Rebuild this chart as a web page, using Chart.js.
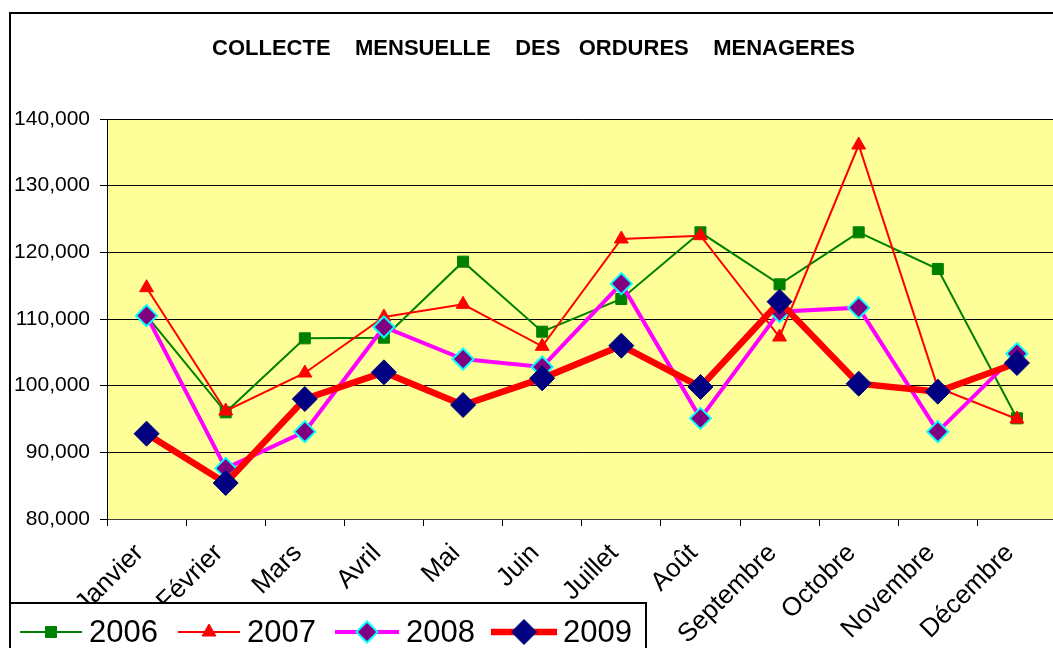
<!DOCTYPE html>
<html>
<head>
<meta charset="utf-8">
<script src="https://cdn.jsdelivr.net/npm/chart.js@4.4.0/dist/chart.umd.min.js"></script>
<style>
  html, body { margin: 0; padding: 0; background: #fff; overflow: hidden; }
  #myChart { display: block; }
</style>
</head>
<body>
<canvas id="myChart" width="1070" height="648"></canvas>
<script>
// months on the x axis
var months = ["Janvier", "Février", "Mars", "Avril", "Mai", "Juin", "Juillet", "Août", "Septembre", "Octobre", "Novembre", "Décembre"];

// tonnes per month
var y2006 = [110500, 96000, 107100, 107200, 118600, 108100, 113000, 123000, 115200, 123000, 117500, 95100];
var y2007 = [114700, 96200, 101900, 110300, 112200, 105900, 122000, 122500, 107300, 136100, 99700, 95000];
var y2008 = [110500, 87600, 93100, 108800, 104000, 102800, 115300, 95100, 111100, 111700, 93100, 104800];
var y2009 = [92800, 85400, 98000, 102000, 97100, 101100, 106000, 99800, 112600, 100300, 99100, 103400];

var yTicks = [80000, 90000, 100000, 110000, 120000, 130000, 140000];

var FONT = "'Liberation Sans', Arial, sans-serif";

var ctx = document.getElementById("myChart");

// yellow plot background + white canvas
var bgPlugin = {
  id: "bg",
  beforeDraw: function (chart) {
    var c = chart.ctx, a = chart.chartArea;
    c.save();
    c.fillStyle = "#ffffff";
    c.fillRect(0, 0, chart.width, chart.height);
    c.fillStyle = "#FFFF99";
    c.fillRect(a.left, a.top, a.right - a.left, a.bottom - a.top);
    c.restore();
  }
};

// legend box at the bottom left, and the chart border
var legendItems = [
  { label: "2006", color: "#008000", lw: 2, x1: 20, x2: 82, tx: 89, style: "rect", r: 7.8, fill: "#008000", border: "#008000", bw: 1 },
  { label: "2007", color: "#FF0000", lw: 2, x1: 178, x2: 240, tx: 247, style: "triangle", r: 8, fill: "#FF0000", border: "#FF0000", bw: 1 },
  { label: "2008", color: "#FF00FF", lw: 4, x1: 335, x2: 399, tx: 406, style: "rectRot", r: 10.5, fill: "#800080", border: "#00FFFF", bw: 2 },
  { label: "2009", color: "#FF0000", lw: 6.5, x1: 491, x2: 557, tx: 563, style: "rectRot", r: 12.5, fill: "#000080", border: "#000080", bw: 1 }
];

var framePlugin = {
  id: "frame",
  afterDraw: function (chart) {
    var c = chart.ctx;
    c.save();
    // outer border
    c.strokeStyle = "#000";
    c.lineWidth = 2;
    c.strokeRect(10, 13, 2000, 2000);
    // legend box
    c.fillStyle = "#fff";
    c.fillRect(10, 603, 636, 100);
    c.strokeRect(10, 603, 636, 100);
    var ly = 632;
    legendItems.forEach(function (it) {
      c.strokeStyle = it.color;
      c.lineWidth = it.lw;
      c.beginPath();
      c.moveTo(it.x1, ly);
      c.lineTo(it.x2, ly);
      c.stroke();
      c.fillStyle = it.fill;
      c.strokeStyle = it.border;
      c.lineWidth = it.bw;
      Chart.helpers.drawPoint(c, { pointStyle: it.style, radius: it.r, rotation: 0, borderWidth: it.bw }, (it.x1 + it.x2) / 2, ly);
      c.fillStyle = "#000";
      c.font = "31px " + FONT;
      c.textBaseline = "middle";
      c.textAlign = "left";
      c.fillText(it.label, it.tx, ly + 1);
    });
    c.restore();
  }
};

var myChart = new Chart(ctx, {
  type: "line",
  data: {
    labels: months,
    datasets: [
      {
        label: "2006", data: y2006, order: 4,
        borderColor: "#008000", borderWidth: 2,
        pointStyle: "rect", pointRadius: 7.8, pointHoverRadius: 7.8,
        pointBackgroundColor: "#008000", pointBorderColor: "#008000", pointBorderWidth: 1
      },
      {
        label: "2007", data: y2007, order: 3,
        borderColor: "#FF0000", borderWidth: 2,
        pointStyle: "triangle", pointRadius: 8, pointHoverRadius: 8,
        pointBackgroundColor: "#FF0000", pointBorderColor: "#FF0000", pointBorderWidth: 1
      },
      {
        label: "2008", data: y2008, order: 2,
        borderColor: "#FF00FF", borderWidth: 4,
        pointStyle: "rectRot", pointRadius: 10.5, pointHoverRadius: 10.5,
        pointBackgroundColor: "#800080", pointBorderColor: "#00FFFF", pointBorderWidth: 2
      },
      {
        label: "2009", data: y2009, order: 1,
        borderColor: "#FF0000", borderWidth: 6.5,
        pointStyle: "rectRot", pointRadius: 12.5, pointHoverRadius: 12.5,
        pointBackgroundColor: "#000080", pointBorderColor: "#000080", pointBorderWidth: 1
      }
    ]
  },
  options: {
    responsive: false,
    animation: false,
    devicePixelRatio: 1,
    layout: { padding: { left: 0, right: 3, top: 0, bottom: 0 } },
    elements: { line: { tension: 0, fill: false } },
    plugins: {
      legend: { display: false },
      tooltip: { enabled: false },
      title: {
        display: true,
        text: "COLLECTE    MENSUELLE    DES   ORDURES    MENAGERES",
        color: "#000",
        font: { family: FONT, size: 22, weight: "bold", lineHeight: 1.2 },
        padding: { top: 36, bottom: 56.6 }
      }
    },
    scales: {
      x: {
        offset: true,
        grid: { offset: true, drawOnChartArea: false, drawTicks: true, tickLength: 7, color: "#000" },
        border: { display: true, color: "#404040", width: 1 },
        ticks: {
          color: "#000",
          font: { family: FONT, size: 26 },
          minRotation: 45, maxRotation: 45,
          autoSkip: false, padding: 12, labelOffset: -7
        },
        afterFit: function (scale) { scale.height = 129; }
      },
      y: {
        min: 80000, max: 140000,
        afterBuildTicks: function (scale) {
          scale.ticks = yTicks.map(function (v) { return { value: v }; });
        },
        grid: { color: "#000", lineWidth: 1, drawTicks: true, tickLength: 7 },
        border: { display: true, color: "#000", width: 1 },
        ticks: {
          color: "#000",
          padding: 10,
          font: { family: FONT, size: 21 },
          callback: function (v) { return Number(v).toLocaleString("en-US"); }
        },
        afterFit: function (scale) { scale.width = 107; }
      }
    }
  },
  plugins: [bgPlugin, framePlugin]
});
</script>
</body>
</html>
